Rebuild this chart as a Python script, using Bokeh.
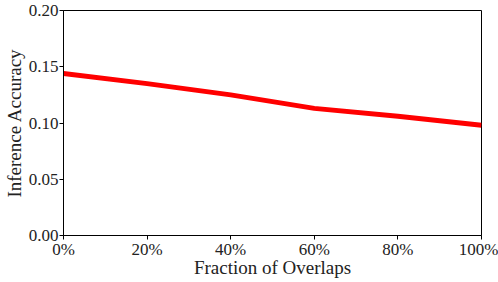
from bokeh.plotting import figure
from bokeh.models import FixedTicker, NumeralTickFormatter, Range1d
from bokeh.embed import file_html
from bokeh.resources import INLINE

fractions = [0.0, 0.2, 0.4, 0.6, 0.8, 1.0]
accuracy = [0.144, 0.135, 0.125, 0.113, 0.106, 0.098]
x_ticks = [0.0, 0.2, 0.4, 0.6, 0.8, 1.0]
y_ticks = [0.00, 0.05, 0.10, 0.15, 0.20]
x_title = "Fraction of Overlaps"
y_title = "Inference Accuracy"

FONT = "Liberation Serif"

p = figure(width=498, height=282, output_backend="svg", toolbar_location=None,
           x_range=Range1d(0, 1), y_range=Range1d(0, 0.2),
           min_border_left=63, min_border_right=17, min_border_top=10, min_border_bottom=47)

p.line(fractions, accuracy, line_color="#ff0000", line_width=5)

p.grid.visible = False
p.outline_line_color = "black"
p.outline_line_width = 1
p.outline_line_alpha = 1

for ax in (p.xaxis[0], p.yaxis[0]):
    ax.axis_line_color = "black"
    ax.major_tick_line_color = "black"
    ax.major_tick_out = 4
    ax.major_tick_in = 0
    ax.minor_tick_line_color = None
    ax.major_label_text_font = FONT
    ax.major_label_text_font_size = "17px"
    ax.major_label_text_color = "#222222"
    ax.axis_label_text_font = FONT
    ax.axis_label_text_font_size = "19px"
    ax.axis_label_text_font_style = "normal"
    ax.axis_label_text_color = "#222222"

p.xaxis.ticker = FixedTicker(ticks=x_ticks)
p.xaxis.formatter = NumeralTickFormatter(format="0%")
p.xaxis.axis_label = x_title
p.xaxis.major_label_standoff = 0
p.xaxis.axis_label_standoff = -5

p.yaxis.ticker = FixedTicker(ticks=y_ticks)
p.yaxis.formatter = NumeralTickFormatter(format="0.00")
p.yaxis.axis_label = y_title
p.yaxis.major_label_standoff = 1
p.yaxis.axis_label_standoff = 1

open("out.html", "w").write(file_html(p, INLINE))
